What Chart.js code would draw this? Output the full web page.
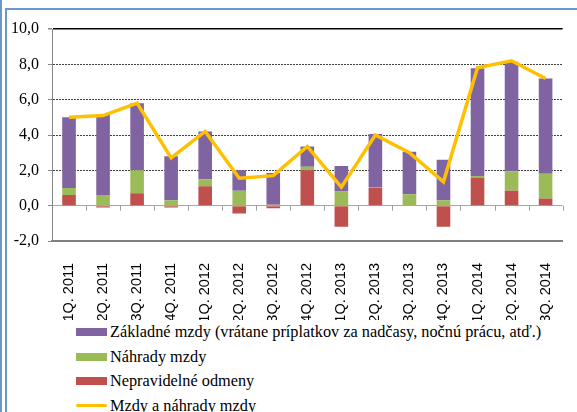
<!DOCTYPE html>
<html>
<head>
<meta charset="utf-8">
<script src="https://cdn.jsdelivr.net/npm/chart.js@4/dist/chart.umd.min.js"></script>
<style>
  html, body { margin: 0; padding: 0; background: #fff; overflow: hidden; }
  body { width: 577px; height: 412px; position: relative; }
  #frame1 { position: absolute; left: 0; top: 0; width: 1.5px; height: 412px; background: #6a96d2; }
  #frame2 { position: absolute; left: 5px; top: 8px; right: -10px; bottom: -10px;
            border-left: 2px solid #6a96d2; border-top: 2px solid #6a96d2; }
  #wrap { position: absolute; left: 0; top: 0; width: 577px; height: 320px; }
  #legend { position: absolute; left: 76px; top: 320px; font: 16.3px "Liberation Serif", "Times New Roman", serif; color: #000; }
  #legend .row { height: 24.5px; display: flex; align-items: center; white-space: nowrap; }
  #legend .box { width: 31px; height: 8px; margin-right: 3px; }
  #legend .line { width: 31px; height: 3px; margin-right: 3px; border-radius: 2px; }
</style>
</head>
<body>
<div id="frame1"></div>
<div id="frame2"></div>
<div id="wrap"><canvas id="chart"></canvas></div>
<div id="legend"></div>
<script>
// quarters
const labels = ['1Q. 2011', '2Q. 2011', '3Q. 2011', '4Q. 2011', '1Q. 2012', '2Q. 2012', '3Q. 2012',
  '4Q. 2012', '1Q. 2013', '2Q. 2013', '3Q. 2013', '4Q. 2013', '1Q. 2014', '2Q. 2014', '3Q. 2014'];

// contributions, p.b.
const zakladne = [4.0, 4.55, 3.8, 2.5, 2.7, 1.15, 1.8, 1.15, 1.45, 3.0, 2.4, 2.3, 6.1, 6.2, 5.4];
const nahrady = [0.4, 0.6, 1.3, 0.3, 0.4, 0.85, 0.05, 0.2, 0.8, 0.05, 0.65, 0.3, 0.08, 1.1, 1.4];
const odmeny = [0.6, -0.1, 0.7, -0.1, 1.1, -0.45, -0.15, 2.0, -1.2, 1.0, 0.0, -1.2, 1.6, 0.85, 0.4];
const mzdy = [5.0, 5.1, 5.8, 2.7, 4.2, 1.55, 1.7, 3.35, 1.05, 4.0, 3.0, 1.35, 7.8, 8.2, 7.2];

const yTicks = [-2, 0, 2, 4, 6, 8, 10];

const PURPLE = '#8064a2', GREEN = '#9bbb59', RED = '#c0504d', YELLOW = '#ffc000';

// small tick marks on the zero line between categories
const zeroTicks = {
  id: 'zeroTicks',
  beforeDatasetsDraw(chart) {
    const x = chart.scales.x, y = chart.scales.y;
    const ctx = chart.ctx;
    const y0 = y.getPixelForValue(0);
    ctx.save();
    ctx.strokeStyle = '#a0a0a0';
    ctx.lineWidth = 1;
    ctx.beginPath();
    for (let i = 1; i <= labels.length; i++) {
      const px = Math.round(i < labels.length
        ? (x.getPixelForTick(i - 1) + x.getPixelForTick(i)) / 2
        : x.right) + 0.5;
      ctx.moveTo(px, y0);
      ctx.lineTo(px, y0 + 5);
    }
    ctx.stroke();
    ctx.restore();
  }
};

const chart = new Chart(document.getElementById('chart'), {
  type: 'bar',
  data: {
    labels: labels,
    datasets: [
      { label: 'Nepravidelné odmeny', data: odmeny, backgroundColor: RED, stack: 'a', order: 1 },
      { label: 'Náhrady mzdy', data: nahrady, backgroundColor: GREEN, stack: 'a', order: 1 },
      { label: 'Základné mzdy (vrátane príplatkov za nadčasy, nočnú prácu, atď.)', data: zakladne,
        backgroundColor: PURPLE, stack: 'a', order: 1 },
      { type: 'line', label: 'Mzdy a náhrady mzdy', data: mzdy, borderColor: YELLOW, backgroundColor: YELLOW,
        borderWidth: 3.5, pointRadius: 0, tension: 0, stack: 'line', order: 0, borderJoinStyle: 'miter' }
    ]
  },
  options: {
    responsive: true,
    maintainAspectRatio: false,
    animation: false,
    layout: { padding: { top: 29, right: 0, bottom: 0, left: 0 } },
    datasets: { bar: { categoryPercentage: 0.4, barPercentage: 1 } },
    scales: {
      x: {
        stacked: true,
        grid: { display: false },
        border: { display: true, color: '#808080', width: 2 },
        ticks: {
          autoSkip: false, minRotation: 90, maxRotation: 90, padding: 14,
          color: '#000', font: { family: 'Liberation Sans', size: 14.5 }
        },
        afterFit: (scale) => { scale.height = 79; }
      },
      y: {
        stacked: true,
        min: -2, max: 10,
        afterBuildTicks: (scale) => { scale.ticks = yTicks.map(v => ({ value: v })); },
        ticks: {
          padding: 9, color: '#000',
          font: { family: '"Liberation Serif", "Times New Roman", serif', size: 16 },
          callback: (v) => v.toFixed(1).replace('.', ',')
        },
        grid: {
          tickLength: 4,
          tickColor: '#868686',
          color: (c) => {
            const v = c.tick && c.tick.value;
            if (v === 10) return '#000';
            if (v === 0) return '#a6a6a6';
            if (v === -2) return 'rgba(0,0,0,0)';
            return '#404040';
          },
          lineWidth: (c) => (c.tick && c.tick.value === 10) ? 1.5 : 1
        },
        border: {
          display: true, color: '#868686', width: 1,
          dash: (c) => {
            const v = c.tick && c.tick.value;
            return (v > 0 && v < 10) ? [2, 1] : [];
          }
        },
        afterFit: (scale) => { scale.width = 52; }
      }
    },
    plugins: {
      legend: { display: false },
      tooltip: { enabled: false }
    }
  },
  plugins: [zeroTicks]
});

// legend built from the datasets, in the original order
const legend = document.getElementById('legend');
[2, 1, 0, 3].forEach(i => {
  const ds = chart.data.datasets[i];
  const row = document.createElement('div');
  row.className = 'row';
  const mark = document.createElement('span');
  mark.className = ds.type === 'line' ? 'line' : 'box';
  mark.style.background = ds.backgroundColor;
  const txt = document.createElement('span');
  txt.textContent = ds.label;
  row.appendChild(mark);
  row.appendChild(txt);
  legend.appendChild(row);
});
</script>
</body>
</html>
